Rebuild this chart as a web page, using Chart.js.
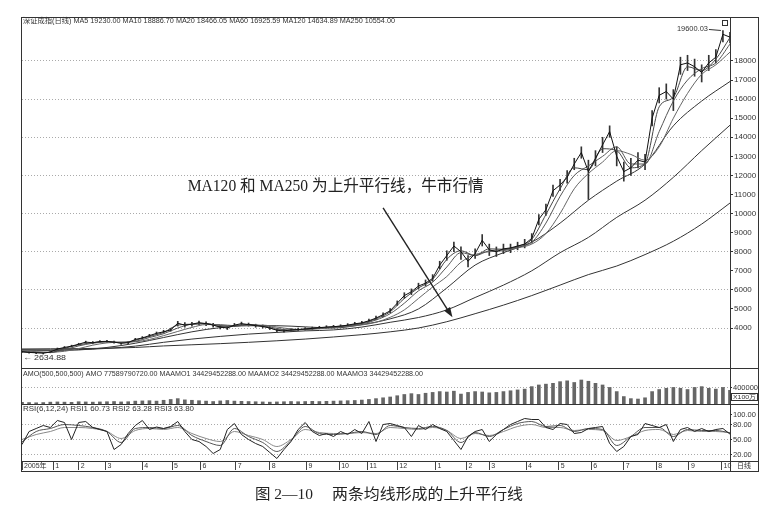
<!DOCTYPE html>
<html>
<head>
<meta charset="utf-8">
<script src="https://cdn.jsdelivr.net/npm/chart.js@4.4.0/dist/chart.umd.min.js"></script>
<style>
  body { margin: 0; background: #fff; width: 783px; height: 527px; overflow: hidden; position: relative; }
  canvas { position: absolute; left: 0; }
  #main { top: 0; }
  #vol { top: 366px; }
  #rsi { top: 400px; }
</style>
</head>
<body>
<canvas id="main" width="783" height="372"></canvas>
<canvas id="vol" width="783" height="40"></canvas>
<canvas id="rsi" width="783" height="127"></canvas>
<script>
// x is the trading-day index; 2005-12 starts at day 0, chart ends on day 500
const monthLabels = ['2005年', '1', '2', '3', '4', '5', '6', '7', '8', '9', '10', '11', '12',
  '1', '2', '3', '4', '5', '6', '7', '8', '9', '10'];
const monthDays = [0, 22, 40, 59, 85, 106, 126, 151, 175, 201, 224, 244, 265,
  292, 314, 330, 356, 379, 402, 425, 448, 471, 494];

const priceTicks = [4000, 5000, 6000, 7000, 8000, 9000, 10000, 11000, 12000, 13000,
  14000, 15000, 16000, 17000, 18000];
const amoTicks = [400000];
const rsiTicks = [20, 50, 80, 100];

// price samples every 5 days
const closes = [
  2760, 2720, 2700, 2680, 2740, 2900, 2980, 3050, 3150, 3260,
  3230, 3290, 3300, 3260, 3200, 3230, 3400, 3480, 3600, 3720,
  3800, 3900, 4250, 4150, 4200, 4280, 4230, 4150, 4050, 4000,
  4150, 4230, 4180, 4120, 4080, 4000, 3880, 3850, 3900, 3920,
  3950, 3980, 4020, 4050, 4070, 4100, 4150, 4220, 4270, 4380,
  4520, 4700, 4900, 5300, 5700, 5900, 6200, 6350, 6600, 7300,
  7800, 8300, 8000, 7500, 7900, 8600, 8100, 8000, 8150, 8200,
  8300, 8400, 8700, 9700, 10200, 11200, 11500, 11900, 12600, 13200,
  12200, 12900, 13600, 14300, 13000, 12200, 12400, 12800, 12700, 15000,
  16200, 16400, 16000, 17800, 17900, 17700, 17400, 17900, 18200, 19400,
  19250
];
const highs = [
  2790, 2760, 2740, 2720, 2790, 2950, 3030, 3100, 3200, 3310,
  3290, 3340, 3350, 3310, 3250, 3290, 3460, 3550, 3670, 3790,
  3880, 3990, 4350, 4280, 4300, 4360, 4320, 4240, 4130, 4080,
  4240, 4310, 4260, 4200, 4160, 4080, 3960, 3920, 3970, 3990,
  4020, 4050, 4090, 4120, 4140, 4170, 4230, 4300, 4350, 4470,
  4620, 4800, 5020, 5420, 5850, 6050, 6350, 6520, 6800, 7500,
  8050, 8500, 8250, 7800, 8150, 8900, 8400, 8250, 8400, 8400,
  8500, 8650, 8950, 9950, 10500, 11500, 11800, 12250, 12900, 13500,
  12800, 13300, 14000, 14600, 13500, 12700, 12900, 13200, 13100, 15400,
  16600, 16800, 16500, 18200, 18300, 18100, 17800, 18300, 18600, 19600.03,
  19500
];
const lows = [
  2720, 2680, 2660, 2634.88, 2700, 2850, 2930, 3000, 3100, 3200,
  3170, 3240, 3250, 3200, 3140, 3180, 3350, 3420, 3540, 3660,
  3730, 3830, 4100, 4050, 4100, 4180, 4120, 4050, 3950, 3920,
  4070, 4150, 4100, 4040, 4000, 3920, 3800, 3780, 3830, 3860,
  3890, 3920, 3960, 3990, 4010, 4040, 4080, 4150, 4200, 4300,
  4440, 4600, 4800, 5180, 5550, 5750, 6050, 6200, 6450, 7100,
  7550, 8000, 7600, 7200, 7650, 8300, 7800, 7750, 7900, 7950,
  8100, 8200, 8450, 9400, 9900, 10900, 11200, 11600, 12300, 12900,
  10740, 12500, 13200, 14000, 12500, 11700, 12000, 12400, 12300, 14600,
  15800, 16000, 15400, 17300, 17500, 17200, 16900, 17500, 17900, 19000,
  18950
];

// short averages every 10 days
const ma5 = [
  2750, 2710, 2720, 2930, 3120, 3230, 3290, 3220, 3360, 3560,
  3770, 4150, 4200, 4240, 4080, 4130, 4190, 4090, 3920, 3890,
  3950, 4010, 4060, 4140, 4250, 4480, 4850, 5550, 6100, 6550,
  7600, 8050, 7800, 8150, 8130, 8280, 8650, 9950, 11300, 12400,
  12300, 13400, 13300, 12400, 12650, 15600, 16100, 17700, 17500, 18100, 19230.00
];
const ma10 = [
  2760, 2720, 2720, 2860, 3060, 3200, 3270, 3250, 3300, 3500,
  3700, 4000, 4200, 4220, 4130, 4100, 4180, 4120, 3980, 3880,
  3930, 3990, 4050, 4110, 4220, 4420, 4750, 5300, 5950, 6400,
  7200, 7950, 7800, 8050, 8100, 8250, 8500, 9500, 10900, 12000,
  12500, 13000, 13500, 12600, 12600, 14300, 15900, 17000, 17600, 17900, 18886.70
];
const ma20 = [
  2800, 2760, 2730, 2780, 2920, 3100, 3220, 3260, 3280, 3400,
  3600, 3820, 4030, 4180, 4180, 4120, 4130, 4150, 4050, 3950,
  3920, 3960, 4020, 4080, 4160, 4300, 4560, 4950, 5550, 6150,
  6700, 7450, 7850, 8000, 8050, 8200, 8400, 8950, 10000, 11300,
  12100, 12700, 13300, 13100, 12800, 13500, 15000, 16300, 17300, 17800, 18466.05
];
// long averages every 20 days
const ma60 = [2850, 2830, 2850, 2980, 3200, 3500, 3800, 4020, 4120, 4120, 4060, 4000, 4180,
  4480, 5000, 6100, 7300, 7950, 8500, 9500, 10700, 11700, 12600, 14600, 15900, 16925.59];
const ma120 = [2850, 2850, 2870, 2930, 3050, 3250, 3420, 3560, 3680, 3770, 3850, 3900, 4050,
  4300, 4550, 4950, 5600, 6250, 7000, 7950, 8750, 9800, 10700, 11900, 13300, 14634.89];
const ma250 = [2900, 2910, 2920, 2940, 2980, 3060, 3120, 3180, 3250, 3330, 3420, 3530, 3650,
  3800, 4000, 4330, 4750, 5200, 5700, 6250, 6800, 7250, 7850, 8550, 9450, 10554.00];

// turnover (x100万) every 5 days
const amo = [
  40000, 35000, 30000, 35000, 45000, 50000, 45000, 40000, 55000, 50000,
  45000, 50000, 55000, 60000, 50000, 55000, 70000, 75000, 80000, 70000,
  90000, 110000, 130000, 100000, 90000, 80000, 70000, 60000, 75000, 85000,
  70000, 65000, 60000, 55000, 50000, 45000, 50000, 55000, 60000, 55000,
  60000, 65000, 60000, 65000, 70000, 75000, 80000, 85000, 95000, 110000,
  130000, 150000, 170000, 200000, 230000, 250000, 230000, 260000, 280000, 300000,
  290000, 310000, 240000, 280000, 300000, 290000, 270000, 280000, 300000, 320000,
  340000, 360000, 420000, 460000, 480000, 500000, 540000, 560000, 520000, 580000,
  550000, 500000, 460000, 400000, 300000, 180000, 130000, 120000, 150000, 300000,
  350000, 380000, 400000, 380000, 350000, 400000, 420000, 380000, 360000, 400000,
  330000
];

// RSI1 every 5 days, RSI2 / RSI3 every 10 days
const rsi1 = [
  40, 66, 72, 78, 74, 88, 84, 50, 84, 86,
  74, 70, 66, 30, 40, 62, 78, 88, 70, 75,
  72, 76, 86, 66, 50, 46, 36, 22, 30, 70,
  82, 60, 50, 42, 36, 24, 12, 30, 46, 70,
  84, 66, 58, 62, 56, 66, 60, 70, 62, 86,
  46, 80, 82, 78, 74, 56, 78, 70, 80, 72,
  66, 48, 30, 56, 66, 70, 46, 60, 70, 80,
  86, 92, 90, 90, 74, 70, 82, 80, 62, 64,
  72, 74, 76, 42, 26, 36, 56, 60, 82, 78,
  74, 80, 46, 70, 74, 66, 72, 66, 70, 72,
  60.73
];
const rsi2 = [
  45, 66, 72, 80, 78, 74, 66, 44, 72, 74,
  72, 78, 58, 46, 38, 72, 56, 44, 26, 48,
  76, 62, 60, 62, 66, 60, 78, 74, 72, 76,
  68, 44, 64, 56, 70, 82, 86, 76, 78, 66,
  72, 70, 38, 56, 74, 74, 56, 70, 68, 68, 63.28
];
const rsi3 = [
  50, 60, 66, 74, 74, 72, 66, 52, 68, 72,
  70, 74, 62, 52, 46, 66, 58, 50, 36, 50,
  70, 64, 62, 62, 64, 62, 74, 72, 70, 74,
  68, 52, 62, 58, 66, 76, 80, 74, 74, 68,
  70, 68, 48, 56, 68, 70, 60, 68, 66, 66, 63.80
];

const noteText = 'MA120 和 MA250 为上升平行线，牛市行情';
const amoTitle = 'AMO(500,500,500) AMO 77589790720.00 MAAMO1 34429452288.00 MAAMO2 34429452288.00 MAAMO3 34429452288.00';

const INK = '#333';
const SANS = '"Liberation Sans", "Noto Sans CJK SC", sans-serif';
const SERIF = '"Liberation Serif", "Noto Sans CJK SC", serif';

function pts(values, step) {
  return values.map((v, i) => ({ x: i * step, y: v }));
}

function lineSet(label, values, step, color, smooth) {
  return {
    type: 'line', label: label, data: pts(values, step),
    borderColor: color, borderWidth: 1, pointRadius: 0, fill: false,
    tension: smooth ? 0.4 : 0, cubicInterpolationMode: smooth ? 'monotone' : 'default'
  };
}

// squeeze a text into a given width
function fitText(ctx, text, x, y, width, size, family, color) {
  ctx.save();
  ctx.font = size + 'px ' + family;
  ctx.fillStyle = color || INK;
  ctx.textBaseline = 'middle';
  ctx.textAlign = 'left';
  const w = ctx.measureText(text).width;
  ctx.translate(x, y);
  ctx.scale(width / w, 1);
  ctx.fillText(text, 0, 0);
  ctx.restore();
}

function frame(ctx, a, bottom, lines) {
  const right = a.right + 28;
  ctx.save();
  ctx.strokeStyle = INK;
  ctx.lineWidth = 1;
  ctx.beginPath();
  [a.left - 0.5, a.right + 0.5, right + 0.5].forEach(x => {
    ctx.moveTo(x, a.top);
    ctx.lineTo(x, bottom + 1);
  });
  lines.forEach(y => {
    ctx.moveTo(a.left - 1, y + 0.5);
    ctx.lineTo(right + 1, y + 0.5);
  });
  ctx.stroke();
  ctx.restore();
}

function yAxis(min, max, tickValues, extra) {
  return Object.assign({
    position: 'right', min: min, max: max,
    afterBuildTicks: s => { s.ticks = tickValues.map(v => ({ value: v })); },
    afterFit: s => { s.width = 28; s.paddingTop = 0; s.paddingBottom = 0; },
    border: { display: false, dash: [1, 2] }
  }, extra);
}

const hiddenX = { type: 'linear', min: 0, max: 500, offset: false, display: false };
const baseOptions = (padding, scales) => ({
  responsive: false, animation: false,
  layout: { padding: padding },
  plugins: { legend: { display: false }, tooltip: { enabled: false } },
  scales: scales
});

// ---- price panel
const mainNotes = {
  id: 'mainNotes',
  afterDraw(chart) {
    const ctx = chart.ctx, a = chart.chartArea;
    const x = chart.scales.x, y = chart.scales.y;
    frame(ctx, a, a.bottom, [a.top, a.bottom]);

    const title = '深证成指(日线) MA5 ' + ma5[ma5.length - 1].toFixed(2) +
      ' MA10 ' + ma10[ma10.length - 1].toFixed(2) +
      ' MA20 ' + ma20[ma20.length - 1].toFixed(2) +
      ' MA60 ' + ma60[ma60.length - 1].toFixed(2) +
      ' MA120 ' + ma120[ma120.length - 1].toFixed(2) +
      ' MA250 ' + ma250[ma250.length - 1].toFixed(2);
    fitText(ctx, title, a.left + 1, a.top + 4, 372, 7, SANS);

    // highest point label
    const top = Math.max(...highs);
    const px = x.getPixelForValue(highs.indexOf(top) * 5), py = y.getPixelForValue(top);
    fitText(ctx, top.toFixed(2), px - 46, py - 1, 31, 7, SANS);
    ctx.save();
    ctx.strokeStyle = INK;
    ctx.beginPath();
    ctx.moveTo(px - 14, py - 1);
    ctx.lineTo(px - 2, py);
    ctx.stroke();
    ctx.strokeRect(a.right - 7.5, a.top + 3.5, 5, 5);
    ctx.restore();

    // lowest point label
    const low = Math.min(...lows);
    fitText(ctx, '←', a.left + 1, y.getPixelForValue(low) + 4, 9, 8, SANS);
    fitText(ctx, low.toFixed(2), a.left + 12, y.getPixelForValue(low) + 4, 32, 7, SANS);

    // comment and arrow
    fitText(ctx, noteText, x.getPixelForValue(117), y.getPixelForValue(11380), 296, 16, SERIF, '#222');
    const x1 = x.getPixelForValue(255), y1 = y.getPixelForValue(10300);
    const x2 = x.getPixelForValue(304), y2 = y.getPixelForValue(4560);
    const ang = Math.atan2(y2 - y1, x2 - x1);
    ctx.save();
    ctx.strokeStyle = '#222';
    ctx.fillStyle = '#222';
    ctx.lineWidth = 1.4;
    ctx.beginPath();
    ctx.moveTo(x1, y1);
    ctx.lineTo(x2 - 6 * Math.cos(ang), y2 - 6 * Math.sin(ang));
    ctx.stroke();
    ctx.beginPath();
    ctx.moveTo(x2, y2);
    ctx.lineTo(x2 - 10 * Math.cos(ang) + 3.5 * Math.sin(ang), y2 - 10 * Math.sin(ang) - 3.5 * Math.cos(ang));
    ctx.lineTo(x2 - 10 * Math.cos(ang) - 3.5 * Math.sin(ang), y2 - 10 * Math.sin(ang) + 3.5 * Math.cos(ang));
    ctx.closePath();
    ctx.fill();
    ctx.restore();
  }
};

new Chart(document.getElementById('main'), {
  type: 'bar',
  data: {
    datasets: [
      lineSet('close', closes, 5, '#111', false),
      lineSet('MA5', ma5, 10, '#444', true),
      lineSet('MA10', ma10, 10, '#555', true),
      lineSet('MA20', ma20, 10, '#666', true),
      lineSet('MA60', ma60, 20, '#333', true),
      lineSet('MA120', ma120, 20, '#333', true),
      lineSet('MA250', ma250, 20, '#333', true),
      {
        type: 'bar', label: 'range',
        data: highs.map((h, i) => ({ x: i * 5, y: [lows[i], h] })),
        backgroundColor: '#333', barThickness: 1
      }
    ]
  },
  options: baseOptions({ left: 22, top: 17, right: 25, bottom: 4 }, {
    x: hiddenX,
    y: yAxis(1903, 20307, priceTicks, {
      ticks: { padding: 1, color: INK, font: { size: 8, family: SANS }, callback: v => String(v) },
      grid: { color: c => c.tick.value % 2000 === 0 ? '#aaa' : 'transparent', tickColor: INK, tickLength: 3 }
    })
  }),
  plugins: [mainNotes]
});

// ---- turnover panel
const volNotes = {
  id: 'volNotes',
  afterDraw(chart) {
    const ctx = chart.ctx, a = chart.chartArea;
    frame(ctx, a, a.bottom, [a.bottom]);
    fitText(ctx, amoTitle, a.left + 1, a.top + 6, 400, 7, SANS);
    ctx.save();
    ctx.strokeStyle = INK;
    ctx.strokeRect(a.right + 1.5, a.top + 25.5, 26, 7);
    ctx.restore();
    fitText(ctx, 'X100万', a.right + 3, a.top + 29, 23, 6, SANS);
  }
};

new Chart(document.getElementById('vol'), {
  type: 'bar',
  data: {
    datasets: [{
      label: 'AMO', data: pts(amo, 5),
      backgroundColor: '#666', barThickness: 3
    }]
  },
  options: baseOptions({ left: 22, top: 2, right: 25, bottom: 2 }, {
    x: hiddenX,
    y: yAxis(0, 870000, amoTicks, {
      ticks: { padding: 1, color: INK, font: { size: 7.5, family: SANS }, callback: v => String(v) },
      grid: { color: '#aaa', tickColor: INK, tickLength: 2 }
    })
  }),
  plugins: [volNotes]
});

// ---- RSI panel with the date axis and the caption
const rsiNotes = {
  id: 'rsiNotes',
  afterDraw(chart) {
    const ctx = chart.ctx, a = chart.chartArea;
    frame(ctx, a, a.bottom + 10, [a.bottom, a.bottom + 10]);
    const title = 'RSI(6,12,24) RSI1 ' + rsi1[rsi1.length - 1].toFixed(2) +
      ' RSI2 ' + rsi2[rsi2.length - 1].toFixed(2) +
      ' RSI3 ' + rsi3[rsi3.length - 1].toFixed(2);
    fitText(ctx, title, a.left + 1, a.top + 5, 171, 7, SANS);
    fitText(ctx, '日线', a.right + 7, a.bottom + 5, 14, 7, SANS);
    fitText(ctx, '图 2—10', 255, a.bottom + 34, 58, 15, SERIF, '#222');
    fitText(ctx, '两条均线形成的上升平行线', 332, a.bottom + 34, 191, 15, SERIF, '#222');
  }
};

new Chart(document.getElementById('rsi'), {
  type: 'line',
  data: {
    datasets: [
      lineSet('RSI1', rsi1, 5, '#222', false),
      lineSet('RSI2', rsi2, 10, '#555', true),
      lineSet('RSI3', rsi3, 10, '#888', true)
    ]
  },
  options: baseOptions({ left: 22, top: 4, right: 25, bottom: 56 }, {
    x: {
      type: 'linear', min: 0, max: 500, offset: false,
      afterBuildTicks: s => { s.ticks = monthDays.map(d => ({ value: d })); },
      afterFit: s => { s.height = 10; s.paddingLeft = 0; s.paddingRight = 0; },
      ticks: {
        autoSkip: false, maxRotation: 0, minRotation: 0, align: 'start',
        padding: -8, labelOffset: 2, color: INK, font: { size: 7, family: SANS },
        callback: (v, i) => monthLabels[i]
      },
      grid: { drawOnChartArea: false, tickLength: 9, tickColor: '#444' },
      border: { display: false }
    },
    y: yAxis(7, 121, rsiTicks, {
      ticks: { padding: 1, color: INK, font: { size: 7.5, family: SANS }, callback: v => v.toFixed(2) },
      grid: { color: c => c.tick.value === 100 ? 'transparent' : '#aaa', tickColor: INK, tickLength: 2 }
    })
  }),
  plugins: [rsiNotes]
});
</script>
</body>
</html>
